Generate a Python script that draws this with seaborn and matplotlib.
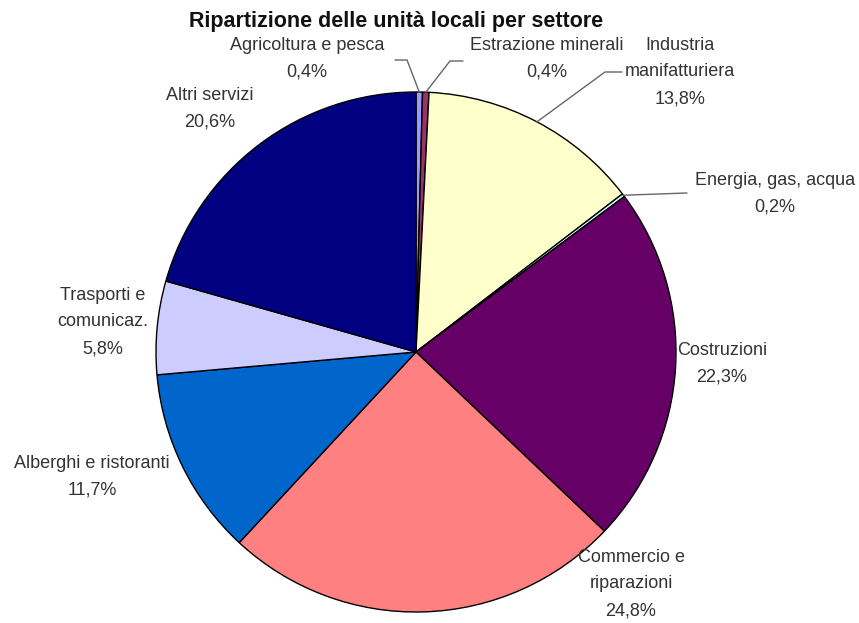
import numpy as np
import matplotlib
matplotlib.use("Agg")
import matplotlib.pyplot as plt
import seaborn as sns

# dati
settori = ["Agricoltura e pesca", "Estrazione minerali", "Industria\nmanifatturiera",
           "Energia, gas, acqua", "Costruzioni", "Commercio e\nriparazioni",
           "Alberghi e ristoranti", "Trasporti e\ncomunicaz.", "Altri servizi"]
quote = [0.4, 0.4, 13.8, 0.2, 22.3, 24.8, 11.7, 5.8, 20.6]
colori = ["#9999FF", "#993366", "#FFFFCC", "#CCFFFF", "#660066",
          "#FF8080", "#0066CC", "#CCCCFF", "#000080"]

sns.set_theme(style="white")
plt.rcParams["font.family"] = ["Liberation Sans", "DejaVu Sans"]

W, H = 859, 623
fig = plt.figure(figsize=(W / 100, H / 100), dpi=100)
ax = fig.add_axes([0, 0, 1, 1])

cx, cy, r = 416, 352, 260


def Y(y):
    return H - y


wedges, _ = ax.pie(quote, colors=sns.color_palette(colori), startangle=90,
                   counterclock=False, center=(cx, Y(cy)), radius=r,
                   wedgeprops=dict(edgecolor="black", linewidth=1.0))
ax.set_xlim(0, W)
ax.set_ylim(0, H)
ax.set_aspect("auto")
ax.axis("off")


def bordo(w):
    # punto sul bordo a metà dello spicchio
    t = np.deg2rad((w.theta1 + w.theta2) / 2)
    return cx + r * np.cos(t), Y(cy) + r * np.sin(t)


# posizione etichette (pixel, y dall'alto)
pos = {
    0: (307, 59),
    1: (547, 59),
    2: (680, 72),
    3: (775, 194),
    4: (722, 364),
    5: (631, 584),
    6: (92, 477),
    7: (103, 322),
    8: (210, 109),
}
txt_col = "#333333"
for i, w in enumerate(wedges):
    perc = f"{quote[i]:.1f}".replace(".", ",")
    etichetta = f"{settori[i]}\n{perc}%"
    x, y = pos[i]
    ax.text(x, Y(y), etichetta, ha="center", va="center", fontsize=13,
            color=txt_col, linespacing=1.76)

# linee guida per le fette piccole
guide = {0: [(395, 60), (407, 60)], 1: [(463, 61), (450, 61)],
         2: [(622, 72), (605, 72)], 3: [(687, 193)]}
for i, punti in guide.items():
    ex, ey = bordo(wedges[i])
    xs = [p[0] for p in punti] + [ex]
    ys = [Y(p[1]) for p in punti] + [ey]
    ax.plot(xs, ys, color="#666666", linewidth=1.0)

ax.text(396, Y(22), "Ripartizione delle unità locali per settore", ha="center",
        va="center", fontsize=15.5, fontweight="bold", color="#111111")

fig.savefig("out.png", dpi=100, facecolor="white")
